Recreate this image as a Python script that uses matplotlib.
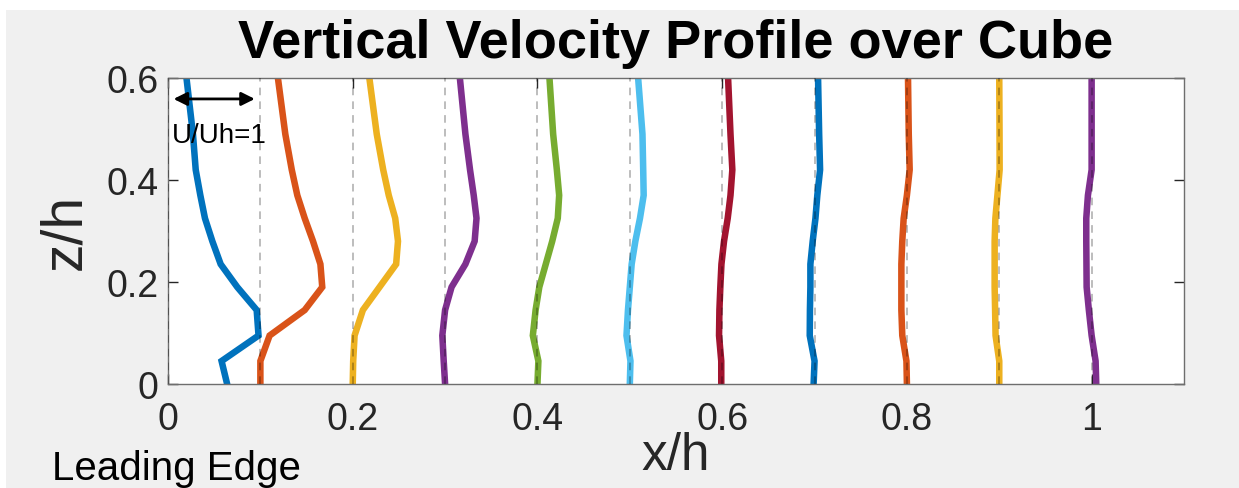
import numpy as np
import matplotlib
matplotlib.use("Agg")
import matplotlib.pyplot as plt
from matplotlib.patches import Rectangle

plt.rcParams['font.family'] = ['Liberation Sans', 'DejaVu Sans']

# measurement stations along the cube (x/h) and heights (z/h)
stations = [0.0, 0.1, 0.2, 0.3, 0.4, 0.5, 0.6, 0.7, 0.8, 0.9, 1.0]
z = [0.0, 0.045, 0.095, 0.145, 0.19, 0.235, 0.28, 0.325, 0.37, 0.42, 0.49, 0.6]

# velocity U/Uh at each station, bottom to top
u00 = [0.64, 0.58, 0.98, 0.96, 0.75, 0.57, 0.48, 0.40, 0.35, 0.30, 0.27, 0.20]
u01 = [0.0, 0.0, 0.10, 0.48, 0.67, 0.65, 0.57, 0.48, 0.40, 0.34, 0.27, 0.19]
u02 = [0.0, 0.005, 0.02, 0.11, 0.29, 0.47, 0.49, 0.46, 0.39, 0.33, 0.26, 0.18]
u03 = [0.0, -0.015, -0.03, 0.0, 0.07, 0.22, 0.32, 0.34, 0.31, 0.27, 0.22, 0.16]
u04 = [0.0, 0.01, -0.05, -0.02, 0.02, 0.09, 0.16, 0.22, 0.235, 0.21, 0.17, 0.13]
u05 = [0.0, 0.007, -0.036, -0.02, 0.0, 0.02, 0.06, 0.11, 0.15, 0.145, 0.137, 0.09]
u06 = [-0.01, -0.01, -0.034, -0.03, -0.02, -0.008, 0.02, 0.06, 0.09, 0.11, 0.09, 0.064]
u07 = [-0.01, 0.0, -0.052, -0.05, -0.045, -0.045, -0.02, 0.01, 0.03, 0.06, 0.05, 0.038]
u08 = [0.0, -0.005, -0.05, -0.06, -0.06, -0.06, -0.05, -0.035, 0.0, 0.03, 0.02, 0.012]
u09 = [0.0, 0.0, -0.04, -0.045, -0.05, -0.05, -0.05, -0.042, -0.02, 0.004, 0.003, 0.0]
u10 = [0.05, 0.043, 0.0, -0.03, -0.054, -0.056, -0.058, -0.058, -0.04, 0.0, 0.0, 0.0]
profiles = [u00, u01, u02, u03, u04, u05, u06, u07, u08, u09, u10]

scale = 0.1  # U/Uh = 1 drawn as 0.1 in x/h

colors = ['#0072BD', '#D95319', '#EDB120', '#7E2F8E', '#77AC30', '#4DBEEE',
          '#A2142F', '#0072BD', '#D95319', '#EDB120', '#7E2F8E']

fig = plt.figure(figsize=(12.39, 4.89), dpi=100, facecolor='white')
# grey window background, thin white margin at top and left
fig.add_artist(Rectangle((6 / 1239, 0), 1, 1 - 11 / 489, transform=fig.transFigure,
                         facecolor='#F0F0F0', edgecolor='none', zorder=-10))
ax = fig.add_axes([0.1356, 0.2127, 0.82, 0.6257])

for x0, u, c in zip(stations, profiles, colors):
    ax.plot(x0 + scale * np.array(u), z, color=c, lw=4.7, solid_joinstyle='miter', zorder=2)

for x0 in stations:
    ax.axvline(x0, color='black', alpha=0.33, lw=1.1, ls=(0, (5, 4)), zorder=3)

ax.annotate('', xy=(0.0, 0.559), xytext=(scale, 0.559),
            arrowprops=dict(arrowstyle='<|-|>', color='black', lw=2, mutation_scale=20,
                            shrinkA=4, shrinkB=4))
ax.text(0.004, 0.488, 'U/Uh=1', fontsize=20, va='center', ha='left')

ax.set_xlim(0, 1.1)
ax.set_ylim(0, 0.6)
ax.set_xticks([0, 0.2, 0.4, 0.6, 0.8, 1.0])
ax.set_xticklabels(['0', '0.2', '0.4', '0.6', '0.8', '1'])
ax.set_yticks([0, 0.2, 0.4, 0.6])
ax.set_yticklabels(['0', '0.2', '0.4', '0.6'])
ax.tick_params(direction='in', length=7, width=1, colors='#262626', labelsize=27,
               top=True, right=True)
ax.tick_params(axis='x', pad=12)
ax.tick_params(axis='y', pad=7)
for s in ax.spines.values():
    s.set_color('#6E6E6E')
    s.set_linewidth(1)

ax.set_xlabel('x/h', fontsize=37, color='#262626', labelpad=-4)
ax.set_ylabel('z/h', fontsize=41, color='#262626', labelpad=10)
ax.set_title('Vertical Velocity Profile over Cube', fontsize=39, fontweight='bold', pad=15)
fig.text(52 / 1239, 9 / 489, 'Leading Edge', fontsize=29, ha='left', va='baseline')

fig.savefig('out.png', dpi=100, facecolor=fig.get_facecolor())
